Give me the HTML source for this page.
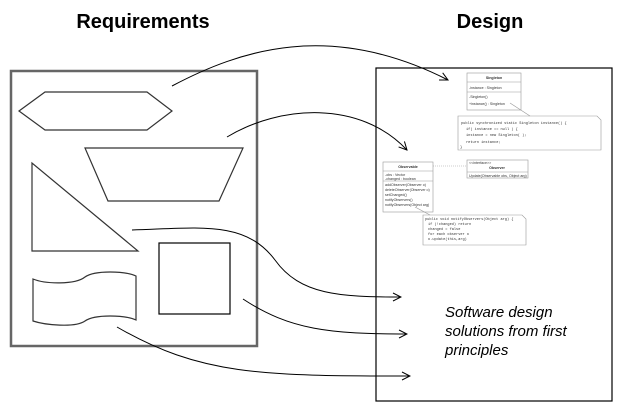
<!DOCTYPE html>
<html><head><style>
html,body{margin:0;padding:0;background:#fff;}
svg{display:block;}
</style></head><body>
<svg width="622" height="411" viewBox="0 0 622 411" xmlns="http://www.w3.org/2000/svg" font-family="Liberation Sans, sans-serif">
<defs>
<marker id="a" markerWidth="10" markerHeight="10" refX="9" refY="5" orient="auto" markerUnits="userSpaceOnUse">
<path d="M1,1 L9,5 L1,9" fill="none" stroke="#000" stroke-width="1"/>
</marker>
</defs>
<text x="143" y="28" font-size="20" font-weight="bold" text-anchor="middle">Requirements</text>
<text x="490" y="28" font-size="20" font-weight="bold" text-anchor="middle">Design</text>
<rect x="11" y="71" width="246" height="275" fill="none" stroke="#666" stroke-width="2.5"/>
<g fill="none" stroke="#333" stroke-width="1.2">
<polygon points="19,111 45,92 147,92 172,111 147,130 45,130"/>
<polygon points="85,148 243,148 219,201 108,201"/>
<polygon points="32,163 32,251 138,251"/>
<rect x="159" y="243" width="71" height="71" stroke="#000"/>
<path d="M33,279 C45,284 75,285 85,277 C95,270 125,271 136,276 L136,320 C125,315 95,314 85,321 C75,328 45,325 33,321 Z"/>
</g>
<rect x="376" y="68" width="236" height="333" fill="none" stroke="#000" stroke-width="1.2"/>
<g fill="none" stroke="#000" stroke-width="1">
<path d="M172,86 C240,50 330,20 448,80" marker-end="url(#a)"/>
<path d="M227,137 C280,105 360,100 407,150" marker-end="url(#a)"/>
<path d="M132,230 C200,228 245,220 275,260 C300,295 340,297 401,297" marker-end="url(#a)"/>
<path d="M243,299 C290,330 330,334 407,334" marker-end="url(#a)"/>
<path d="M117,327 C200,375 260,376 410,376" marker-end="url(#a)"/>
</g>
<g font-size="3.5" fill="#555" stroke="#999" stroke-width="0.6">
<rect x="467" y="73" width="54" height="37" fill="#fff"/>
<line x1="467" y1="82" x2="521" y2="82"/><line x1="467" y1="92" x2="521" y2="92"/>
<path d="M458,116 H597 L601,120 V150 H458 Z" fill="#fff"/>
<line x1="510" y1="103" x2="530" y2="116"/>
<rect x="383" y="162" width="50" height="50" fill="#fff"/>
<line x1="383" y1="171" x2="433" y2="171"/><line x1="383" y1="181" x2="433" y2="181"/>
<rect x="467" y="160" width="61" height="18" fill="#fff"/>
<line x1="467" y1="172" x2="528" y2="172"/>
<line x1="433" y1="166" x2="467" y2="166" stroke-dasharray="1,1"/>
<path d="M423,215 H522 L526,219 V245 H423 Z" fill="#fff"/>
<line x1="415" y1="207" x2="430" y2="215"/>
</g>
<g font-size="3.6" fill="#333">
<text x="494" y="79" text-anchor="middle" font-weight="bold">Singleton</text>
<text x="469" y="89">-instance : Singleton</text>
<text x="469" y="98">-Singleton()</text>
<text x="469" y="105">+instance() : Singleton</text>
<text x="461" y="124" font-family="Liberation Mono, monospace">public synchronized static Singleton instance() {</text>
<text x="466" y="130" font-family="Liberation Mono, monospace">  if( instance == null ) {</text>
<text x="466" y="136" font-family="Liberation Mono, monospace">     instance = new Singleton( );</text>
<text x="466" y="143" font-family="Liberation Mono, monospace">  return instance;</text>
<text x="460" y="148" font-family="Liberation Mono, monospace">}</text>
<text x="408" y="168" text-anchor="middle" font-weight="bold">Observable</text>
<text x="385" y="176">-obs : Vector</text>
<text x="385" y="180">-changed : boolean</text>
<text x="385" y="186">addObserver(Observer o)</text>
<text x="385" y="191">deleteObserver(Observer o)</text>
<text x="385" y="196">setChanged()</text>
<text x="385" y="201">notifyObservers()</text>
<text x="385" y="206">notifyObservers(Object arg)</text>
<text x="469" y="164">&lt;&lt;interface&gt;&gt;</text>
<text x="497" y="169" text-anchor="middle" font-weight="bold">Observer</text>
<text x="469" y="177">Update(Observable obs, Object arg)</text>
<text x="425" y="220" font-family="Liberation Mono, monospace">public void notifyObservers(Object arg) {</text>
<text x="428" y="225" font-family="Liberation Mono, monospace">  if (!changed) return</text>
<text x="428" y="230" font-family="Liberation Mono, monospace">  changed = false</text>
<text x="428" y="235" font-family="Liberation Mono, monospace">  for each observer o</text>
<text x="428" y="240" font-family="Liberation Mono, monospace">      o.update(this,arg)</text>
</g>
<g font-size="15" font-style="italic" fill="#000">
<text x="445" y="317">Software design</text>
<text x="445" y="336">solutions from first</text>
<text x="445" y="355">principles</text>
</g>
</svg>
</body></html>
